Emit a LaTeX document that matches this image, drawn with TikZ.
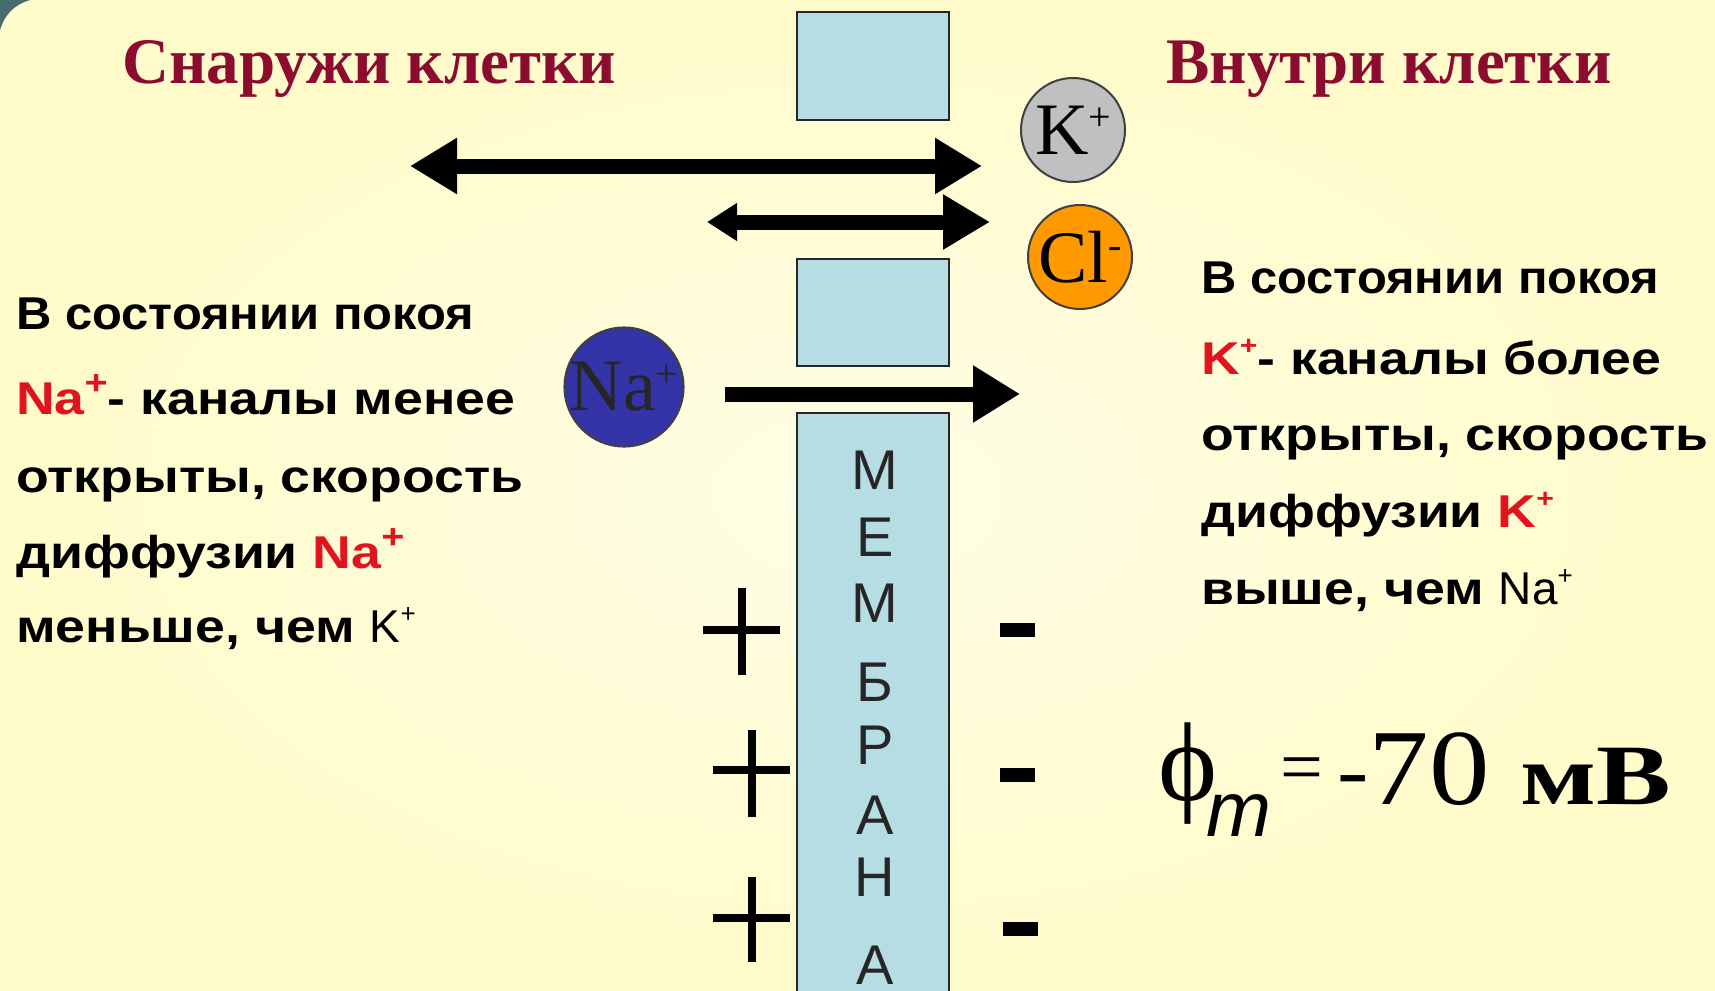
\documentclass[tikz,border=0pt]{standalone}
\usepackage{fontspec}
\setmainfont{Liberation Sans}[BoldFeatures={FakeStretch=1.165}]
\newfontfamily\serif{Liberation Serif}
\newfontfamily\valfont{Liberation Serif}[FakeStretch=1.12]
\newfontfamily\unitfont{Liberation Serif}[FakeStretch=1.3]
\usetikzlibrary{arrows.meta}

\definecolor{bgin}{RGB}{255,254,230}
\definecolor{bgout}{RGB}{255,251,202}
\definecolor{slidecorner}{RGB}{72,108,112}
\definecolor{titlered}{RGB}{140,12,48}
\definecolor{ionred}{RGB}{225,20,30}
\definecolor{membraneblue}{RGB}{182,221,228}
\definecolor{kgray}{RGB}{192,192,194}
\definecolor{clorange}{RGB}{255,153,0}
\definecolor{nablue}{RGB}{52,52,168}

\newcommand{\ioncharge}[1]{\raisebox{0.32em}{\fontsize{40}{40}\selectfont #1}}
\newcommand{\txtcharge}[2][30]{\raisebox{0.42em}{\fontsize{#1}{#1}\selectfont #2}}

\tikzset{
  membrane/.style={draw=black!85, line width=2pt, fill=membraneblue, minimum width=152pt, inner sep=0pt},
  memletter/.style={font=\fontsize{56}{56}\selectfont, text=black!85, inner sep=0pt},
  ion/.style={circle, draw=black!75, line width=2pt, minimum size=104pt, inner sep=0pt, font=\serif\fontsize{74}{74}\selectfont},
  flux/.style={line width=15pt},
  titletext/.style={font=\serif\bfseries\fontsize{65}{65}\selectfont, text=titlered, inner sep=0pt},
  bodytext/.style={anchor=base west, font=\bfseries\fontsize{46}{46}\selectfont, inner sep=0pt},
  plusmark/.style={line width=8pt},
  minusmark/.style={line width=14pt}
}

\begin{document}
\begin{tikzpicture}[x=1pt,y=-1pt]
% background of the slide
\shade[inner color=bgin, outer color=bgout] (0,0) rectangle (1715,990);
\fill[slidecorner] (0,0) -- (30,0) .. controls (14,5) and (5,14) .. (0,30) -- cycle;
\useasboundingbox (0,0) rectangle (1715,990);

% titles
\node[titletext, anchor=base west] (outside) at (122,83) {Снаружи клетки};
\node[titletext, anchor=base east] (inside) at (1612,83) {Внутри клетки};

% membrane with channels
\node[membrane, minimum height=107pt] (memtop) at (873,66) {};
\node[membrane, minimum height=107pt] (memmid) at (873,312) {};
\node[membrane, minimum height=597pt] (membot) at (873,711) {};
\foreach \ch/\yy [count=\i] in {М/470,Е/537,М/603,Б/682,Р/745,А/815,Н/877,А/965}
  \node[memletter] (bukva\i) at (875,\yy) {\ch};

% ions
\node[ion, fill=kgray] (kion) at (1073,130) {K\ioncharge{+}};
\node[ion, fill=clorange] (clion) at (1080,257) {Cl\ioncharge{-}};
\node[ion, fill=nablue, text=black!85] (naion) at (624,387) {Na\ioncharge{+}};

% fluxes
\coordinate (kleft) at (410,166);
\coordinate (kright) at (982,166);
\coordinate (clleft) at (707,222);
\coordinate (clright) at (990,222);
\coordinate (nastart) at (725,394);
\coordinate (naend) at (1020,394);
\draw[flux, {Triangle[length=47pt,width=53pt]}-{Triangle[length=47pt,width=53pt]}] (kleft) -- (kright);
\draw[flux, {Triangle[length=30pt,width=36pt]}-{Triangle[length=47pt,width=52pt]}] (clleft) -- (clright);
\draw[flux, -{Triangle[length=47pt,width=54pt]}] (nastart) -- (naend);

% charges
\draw[plusmark] (703,630) -- (780,630) (742,588) -- (742,675);
\draw[plusmark] (713,770) -- (790,770) (752,730) -- (752,817);
\draw[plusmark] (713,918) -- (790,918) (752,877) -- (752,962);
\draw[minusmark] (1000,630) -- (1035,630);
\draw[minusmark] (1000,775) -- (1035,775);
\draw[minusmark] (1003,929) -- (1038,929);

% outside text
\node[bodytext] (left1) at (16,329) {\scalebox{0.913}[1]{В состоянии покоя}};
\node[bodytext] (left2) at (16,414) {\textcolor{ionred}{Na\txtcharge[34]{+}}- каналы менее};
\node[bodytext] (left3) at (16,492) {открыты, скорость};
\node[bodytext] (left4) at (16,568) {диффузии \textcolor{ionred}{Na\txtcharge[34]{+}}};
\node[bodytext] (left5) at (16,642) {меньше, чем {\mdseries K\txtcharge[26]{+}}};

% inside text
\node[bodytext] (right1) at (1201,293) {\scalebox{0.913}[1]{В состоянии покоя}};
\node[bodytext] (right2) at (1201,374) {\textcolor{ionred}{K\txtcharge[26]{+}}- каналы более};
\node[bodytext] (right3) at (1201,450) {открыты, скорость};
\node[bodytext] (right4) at (1201,527) {диффузии \textcolor{ionred}{K\txtcharge[26]{+}}};
\node[bodytext] (right5) at (1201,604) {выше, чем {\mdseries Na\txtcharge[26]{+}}};

% membrane potential
\node[anchor=base west, inner sep=0pt, font=\serif\fontsize{112}{112}\selectfont] (phi) at (1158,800) {ϕ};
\node[anchor=base west, inner sep=0pt, font=\itshape\fontsize{78}{78}\selectfont] (phisub) at (1206,836) {m};
\node[anchor=base west, inner sep=0pt, font=\serif\fontsize{76}{76}\selectfont] (eq) at (1280,792) {=};
\node[anchor=base west, inner sep=0pt, font=\valfont\fontsize{108}{108}\selectfont] (val) at (1337,804) {{\fontsize{84}{84}\selectfont\raisebox{0.06em}{-}}70};
\node[anchor=base west, inner sep=0pt, font=\unitfont\bfseries\fontsize{86}{86}\selectfont] (unit) at (1520,804) {мВ};
\end{tikzpicture}
\end{document}
